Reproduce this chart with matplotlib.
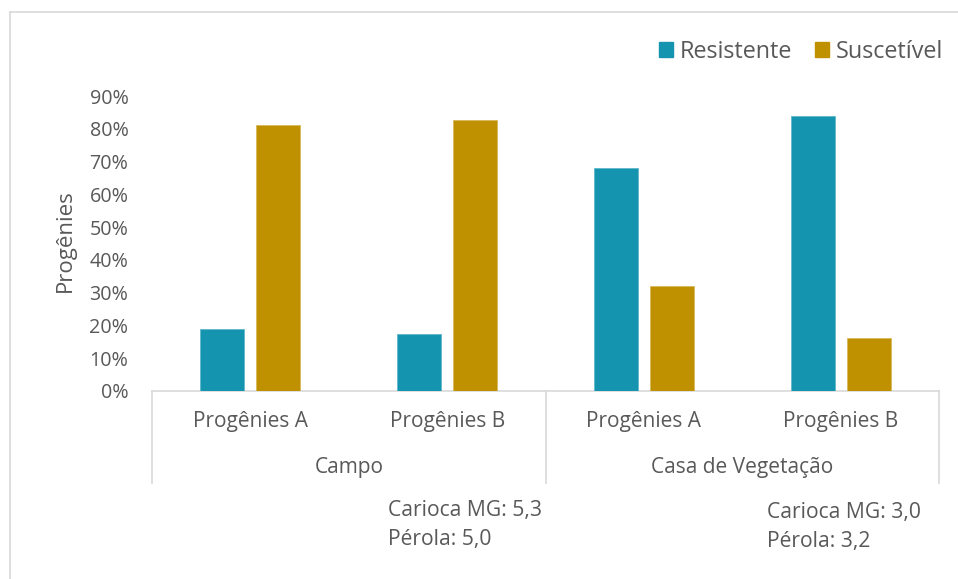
import matplotlib
matplotlib.use("Agg")
import matplotlib.pyplot as plt
from matplotlib.patches import Patch
from matplotlib.lines import Line2D
import numpy as np

# Data
groups = ["Campo", "Casa de Vegetação"]
subcats = ["Progênies A", "Progênies B", "Progênies A", "Progênies B"]
series_names = ["Resistente", "Suscetível"]
resistente = [18.8, 17.4, 67.9, 83.9]
suscetivel = [81.2, 82.6, 32.1, 16.1]
yticks = [0, 10, 20, 30, 40, 50, 60, 70, 80, 90]
notes_campo = ["Carioca MG: 5,3", "Pérola: 5,0"]
notes_casa = ["Carioca MG: 3,0", "Pérola: 3,2"]

COL_RES = "#1494AE"
COL_SUS = "#BF9000"
TXT = "#595959"
GRID = "#D9D9D9"
FONT = "Open Sans"

plt.rcParams["font.family"] = [FONT, "DejaVu Sans"]

W, H = 958, 579
fig = plt.figure(figsize=(W / 100, H / 100), dpi=100)
fig.patch.set_facecolor("white")

# plot area in pixel terms
x0, x1 = 152, 939
ytop, ybot = 96, 391
ax = fig.add_axes([x0 / W, 1 - ybot / H, (x1 - x0) / W, (ybot - ytop) / H])

x = np.arange(len(subcats))
bw = 0.2236
off = 0.1423
ax.bar(x - off, resistente, bw, color=COL_RES, edgecolor="#5FB8CB", linewidth=0.6,
       label=series_names[0], zorder=3)
ax.bar(x + off, suscetivel, bw, color=COL_SUS, edgecolor="#D8B85A", linewidth=0.6,
       label=series_names[1], zorder=3)

ax.set_xlim(-0.5, len(subcats) - 0.5)
ax.set_ylim(0, 90)
ax.set_yticks(yticks)
ax.set_yticklabels([f"{v}%" for v in yticks], fontsize=14.2, color=TXT)
ax.tick_params(axis="y", length=0, pad=17)
ax.tick_params(axis="x", length=0, labelbottom=False)
for s in ["top", "right", "left"]:
    ax.spines[s].set_visible(False)
ax.spines["bottom"].set_color(GRID)
ax.spines["bottom"].set_linewidth(1.2)

ax.set_ylabel("Progênies", fontsize=16, color=TXT)
ax.yaxis.set_label_coords(-(x0 - 76) / (x1 - x0), 1 - (241 - ytop) / (ybot - ytop))

# Two-level category axis
trans = ax.get_xaxis_transform()
axh = ybot - ytop
y_sub = -(422 - ybot) / axh
y_grp = -(468 - ybot) / axh
y_line = -(483 - ybot) / axh
for xi, lab in zip(x, subcats):
    ax.text(xi, y_sub, lab, transform=trans, ha="center", va="center",
            fontsize=15, color=TXT)
n_per = len(subcats) // len(groups)
for gi, g in enumerate(groups):
    center = gi * n_per + (n_per - 1) / 2
    ax.text(center, y_grp, g, transform=trans, ha="center", va="center",
            fontsize=15, color=TXT)
for b in range(len(groups) + 1):
    xb = b * n_per - 0.5
    ax.add_line(Line2D([xb, xb], [0, y_line], transform=trans, color=GRID,
                       linewidth=1.2, clip_on=False))

# Legend
handles = [Patch(color=COL_RES), Patch(color=COL_SUS)]
fig.legend(handles, series_names, loc="center right",
           bbox_to_anchor=(943 / W, 1 - 52 / H), ncol=2, frameon=False,
           fontsize=16.8, handlelength=0.6, handleheight=0.6,
           handletextpad=0.3, columnspacing=0.95, borderpad=0,
           borderaxespad=0, labelcolor=TXT)

# Notes under each group
fig.text(388 / W, 1 - 516 / H, notes_campo[0], fontsize=15.2, color=TXT, va="baseline")
fig.text(388 / W, 1 - 545 / H, notes_campo[1], fontsize=15.2, color=TXT, va="baseline")
fig.text(767 / W, 1 - 518 / H, notes_casa[0], fontsize=15.2, color=TXT, va="baseline")
fig.text(767 / W, 1 - 547 / H, notes_casa[1], fontsize=15.2, color=TXT, va="baseline")

# Chart border (top and left edges)
fig.add_artist(Line2D([9.5 / W, 9.5 / W], [0, 1 - 11.5 / H], transform=fig.transFigure,
                      color=GRID, linewidth=1.2))
fig.add_artist(Line2D([9.5 / W, 1], [1 - 11.5 / H, 1 - 11.5 / H], transform=fig.transFigure,
                      color=GRID, linewidth=1.2))

fig.savefig("out.png", dpi=100, facecolor="white")
